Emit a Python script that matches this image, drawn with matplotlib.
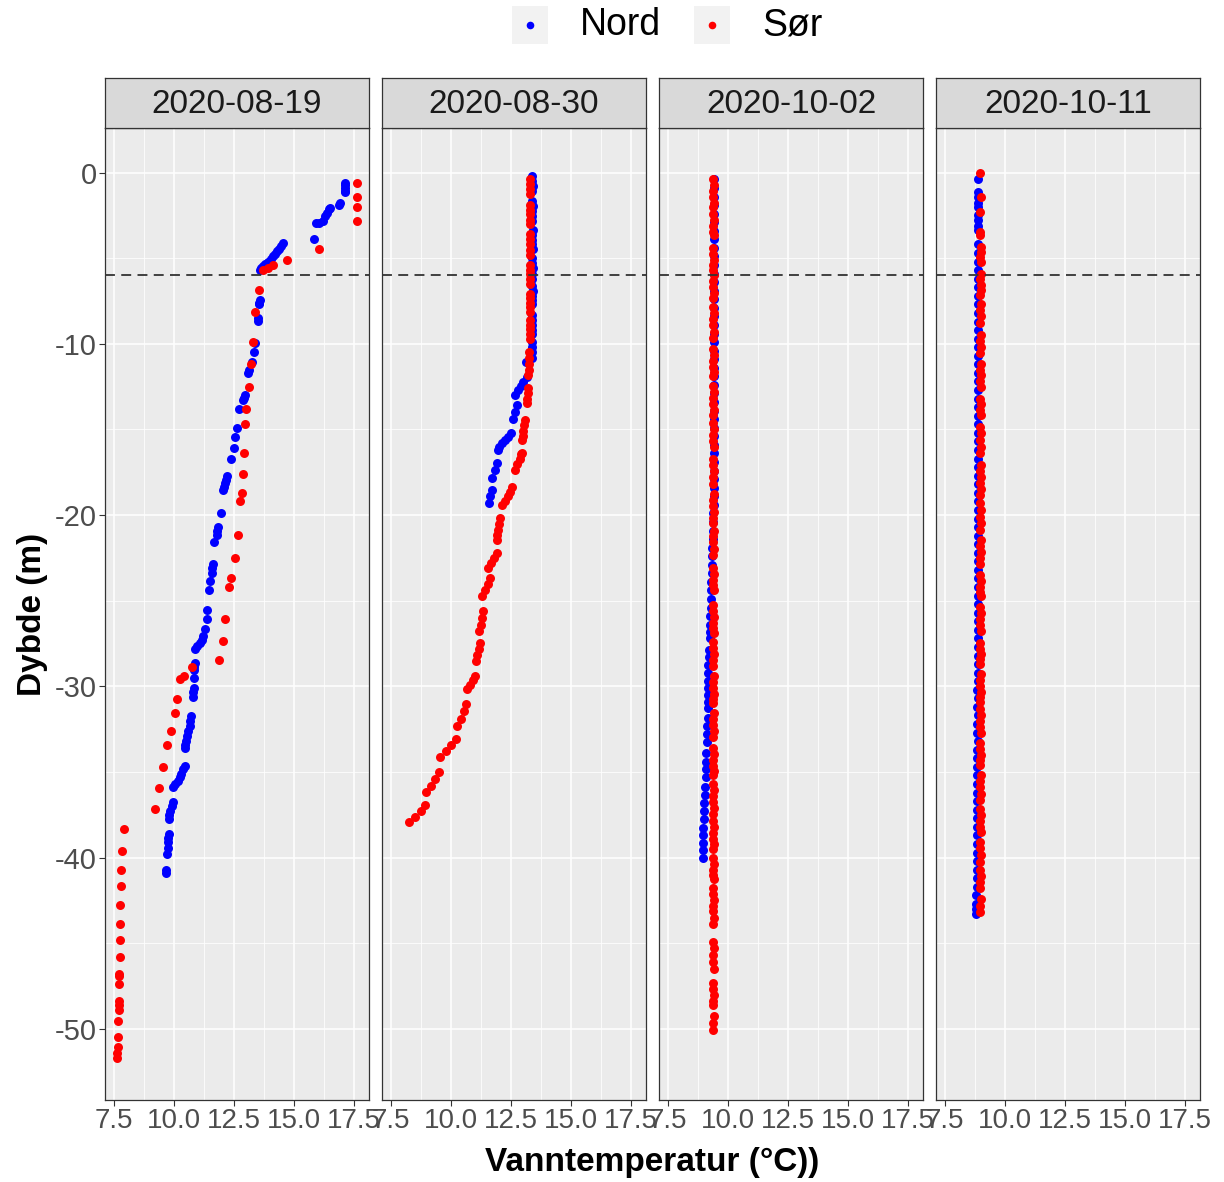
import matplotlib
matplotlib.use("Agg")
import matplotlib.pyplot as plt
from matplotlib.patches import Rectangle
from matplotlib.ticker import FixedLocator, FuncFormatter

plt.rcParams['font.family'] = ['Liberation Sans', 'DejaVu Sans']

dates = ['2020-08-19', '2020-08-30', '2020-10-02', '2020-10-11']
sites = ['Nord', 'Sør']
site_colors = {'Nord': '#0000FF', 'Sør': '#FF0000'}
threshold_depth = -6

x_ticks = [7.5, 10.0, 12.5, 15.0, 17.5]
x_minor = [8.75, 11.25, 13.75, 16.25]
y_ticks = [0, -10, -20, -30, -40, -50]
y_minor = [-5, -15, -25, -35, -45]

# (temperature, depth) pairs
nord_0819 = [
    (17.11, -0.62), (17.11, -0.75), (17.12, -0.9), (17.11, -1.05), (17.10, -1.15),
    (16.90, -1.78), (16.86, -1.9), (16.5, -2.05), (16.45, -2.15), (16.38, -2.35),
    (16.3, -2.55), (16.21, -2.85), (16.05, -2.93), (15.9, -2.93), (15.83, -3.9),
    (14.52, -4.12), (14.45, -4.3), (14.38, -4.45), (14.3, -4.6), (14.22, -4.75),
    (14.12, -4.9), (14.02, -5.05), (13.92, -5.2), (13.8, -5.35), (13.7, -5.45),
    (13.62, -5.55), (13.57, -5.7), (13.57, -7.45), (13.55, -7.6), (13.53, -7.7),
    (13.5, -8.5), (13.48, -8.66), (13.37, -9.94), (13.31, -10.49), (13.24, -11.05),
    (13.12, -11.55), (13.08, -11.7), (12.97, -13.0), (12.9, -13.15), (12.86, -13.3),
    (12.69, -13.8), (12.63, -14.9), (12.55, -15.45), (12.49, -16.1), (12.38, -16.7),
    (12.19, -17.74), (12.15, -17.95), (12.12, -18.13), (12.06, -18.35), (12.02, -18.52),
    (11.94, -19.88), (11.84, -20.69), (11.8, -20.9), (11.77, -21.14), (11.68, -21.57),
    (11.63, -22.85), (11.6, -23.1), (11.56, -23.38), (11.49, -23.86), (11.47, -24.35),
    (11.39, -25.57), (11.36, -26.05), (11.29, -26.64), (11.22, -27.06), (11.15, -27.3),
    (11.08, -27.45), (10.97, -27.65), (10.87, -27.80), (10.86, -28.62), (10.85, -28.85),
    (10.84, -29.04), (10.84, -29.51), (10.84, -30.07), (10.8, -30.35), (10.77, -30.65),
    (10.70, -31.72), (10.68, -32.0), (10.67, -32.3), (10.59, -32.6), (10.55, -32.9),
    (10.5, -33.18), (10.46, -33.4), (10.46, -33.57), (10.44, -34.63), (10.37, -34.85),
    (10.30, -35.12), (10.23, -35.3), (10.16, -35.5), (10.06, -35.7), (9.96, -35.9),
    (9.96, -36.77), (9.9, -37.0), (9.85, -37.25), (9.8, -37.5), (9.78, -37.74),
    (9.78, -38.6), (9.76, -38.85), (9.75, -39.1), (9.73, -39.45), (9.71, -39.78),
    (9.68, -40.75), (9.68, -40.88),
]
sor_0819 = [
    (17.62, -0.62), (17.62, -1.40), (17.62, -2.02), (17.60, -2.83), (16.04, -4.45),
    (14.68, -5.12), (14.1, -5.4), (13.93, -5.6), (13.72, -5.7), (13.52, -6.83),
    (13.37, -8.13), (13.27, -9.87), (13.21, -11.18), (13.13, -12.54), (13.0, -13.82),
    (12.94, -14.7), (12.9, -16.38), (12.88, -17.61), (12.81, -18.72), (12.74, -19.2),
    (12.66, -21.18), (12.53, -22.5), (12.39, -23.70), (12.28, -24.19), (12.14, -26.09),
    (12.03, -27.37), (11.89, -28.48), (10.75, -28.85), (10.4, -29.39), (10.26, -29.55),
    (10.12, -30.71), (10.05, -31.57), (9.87, -32.6), (9.72, -33.45), (9.54, -34.73),
    (9.36, -35.95), (9.19, -37.16), (7.92, -38.32), (7.84, -39.64), (7.8, -40.71),
    (7.78, -41.64), (7.77, -42.79), (7.76, -43.86), (7.75, -44.79), (7.74, -45.8),
    (7.73, -46.77), (7.73, -46.9), (7.72, -47.4), (7.72, -48.38), (7.71, -48.6),
    (7.71, -48.9), (7.69, -49.52), (7.67, -50.5), (7.66, -51.04), (7.64, -51.43),
    (7.63, -51.68),
]
nord_0830 = [
    (13.38, -0.23), (13.38, -0.5), (13.39, -0.8), (13.38, -1.1),
    (13.38, -1.65), (13.39, -1.95), (13.38, -2.25), (13.38, -2.55), (13.38, -2.85),
    (13.39, -3.35), (13.38, -3.65), (13.38, -3.95), (13.38, -4.2), (13.39, -4.45),
    (13.38, -5.0), (13.38, -5.3), (13.39, -5.6), (13.38, -5.9), (13.38, -6.2),
    (13.38, -6.6), (13.39, -6.9), (13.38, -7.2), (13.38, -7.45), (13.38, -7.65),
    (13.38, -8.3), (13.38, -8.6), (13.37, -8.9), (13.37, -9.2), (13.37, -9.4),
    (13.36, -9.9), (13.36, -10.2), (13.35, -10.5), (13.35, -10.8), (13.10, -11.05),
    (13.15, -11.92), (13.01, -12.21), (12.9, -12.45), (12.8, -12.7), (12.66, -13.0),
    (12.76, -13.57), (12.66, -13.96), (12.56, -14.4),
    (12.48, -15.22), (12.35, -15.42), (12.25, -15.61), (12.12, -15.8), (12.01, -16.0),
    (11.97, -16.19), (11.9, -16.97), (11.83, -17.36), (11.69, -17.84),
    (11.69, -18.52), (11.62, -18.91), (11.6, -19.3),
]
sor_0830 = [
    (13.28, -0.37), (13.28, -0.65), (13.29, -0.95), (13.28, -1.24),
    (13.28, -1.92), (13.28, -2.2), (13.29, -2.45), (13.28, -2.75), (13.28, -2.99),
    (13.28, -3.57), (13.29, -3.9), (13.28, -4.2), (13.28, -4.5), (13.28, -4.83),
    (13.28, -5.42), (13.29, -5.7), (13.28, -5.95), (13.28, -6.2), (13.28, -6.48),
    (13.28, -7.07), (13.28, -7.35), (13.29, -7.6), (13.28, -7.85), (13.28, -8.13),
    (13.27, -8.62), (13.28, -8.9), (13.27, -9.15), (13.27, -9.45), (13.27, -9.69),
    (13.25, -10.46), (13.24, -10.8), (13.24, -11.15), (13.23, -11.5), (13.22, -11.82),
    (13.21, -12.6), (13.19, -12.9), (13.17, -13.2), (13.15, -13.47),
    (13.07, -14.44), (13.04, -14.75), (13.01, -15.1), (12.98, -15.41), (12.97, -15.61),
    (12.9, -16.42),
    (12.94, -16.39), (12.86, -16.7), (12.76, -17.0), (12.66, -17.36),
    (12.55, -18.37), (12.45, -18.65), (12.38, -18.91), (12.25, -19.15), (12.11, -19.4),
    (12.04, -20.17), (12.0, -20.5), (11.95, -20.85), (11.92, -21.15), (11.9, -21.43),
    (11.9, -22.21), (11.8, -22.5), (11.68, -22.8), (11.55, -23.08),
    (11.62, -23.66), (11.52, -24.0), (11.4, -24.35), (11.28, -24.73),
    (11.35, -25.6), (11.3, -26.0), (11.23, -26.4), (11.18, -26.77),
    (11.21, -27.45), (11.15, -27.8), (11.08, -28.15), (11.03, -28.52),
    (11.0, -29.39), (10.9, -29.65), (10.8, -29.9), (10.68, -30.17),
    (10.62, -31.05), (10.52, -31.45), (10.4, -31.9), (10.26, -32.3),
    (10.2, -33.08), (10.0, -33.4), (9.78, -33.75), (9.54, -34.15),
    (9.51, -34.98), (9.35, -35.4), (9.15, -35.8), (8.96, -36.19),
    (8.92, -36.92), (8.75, -37.25), (8.5, -37.6), (8.26, -37.93),
]
nord_1002 = [
    (9.43, -0.4), (9.43, -0.9), (9.42, -1.4), (9.43, -1.9), (9.43, -2.4),
    (9.42, -2.9), (9.43, -3.4), (9.42, -3.9), (9.43, -4.4), (9.42, -4.9),
    (9.43, -5.4), (9.42, -5.9), (9.43, -6.4), (9.43, -6.9), (9.42, -7.4),
    (9.43, -7.9), (9.43, -8.4), (9.42, -8.9), (9.43, -9.4), (9.43, -9.9),
    (9.42, -10.4), (9.43, -10.9), (9.42, -11.4), (9.43, -11.9), (9.42, -12.4),
    (9.43, -12.9), (9.42, -13.4), (9.42, -13.9), (9.43, -14.4), (9.42, -14.9),
    (9.42, -15.4), (9.41, -15.9), (9.42, -16.4), (9.41, -16.9), (9.41, -17.4),
    (9.40, -17.9), (9.41, -18.4), (9.40, -18.9), (9.40, -19.4), (9.39, -19.9),
    (9.38, -20.4), (9.38, -20.9), (9.36, -21.4), (9.35, -21.9), (9.34, -22.4),
    (9.33, -22.9), (9.32, -23.4), (9.31, -23.9), (9.30, -24.4), (9.29, -24.9),
    (9.28, -25.4), (9.27, -25.9), (9.26, -26.4), (9.25, -26.8), (9.24, -27.2),
    (9.20, -27.85), (9.19, -28.3), (9.18, -28.75), (9.18, -29.2),
    (9.18, -29.7), (9.17, -30.1), (9.17, -30.5), (9.16, -30.9), (9.16, -31.25),
    (9.15, -31.85), (9.14, -32.3), (9.14, -32.8), (9.13, -33.25),
    (9.10, -33.9), (9.09, -34.4), (9.08, -34.85), (9.07, -35.3),
    (9.04, -35.9), (9.03, -36.35), (9.02, -36.8), (9.01, -37.3), (9.00, -37.75),
    (8.98, -38.25), (8.97, -38.7), (8.97, -39.15), (8.96, -39.55), (8.96, -40.0),
]
sor_1002 = [
    (9.39, -0.4), (9.40, -0.75), (9.39, -1.1), (9.39, -1.45), (9.40, -1.8), (9.39, -2.0),
    (9.39, -2.45), (9.40, -2.8), (9.39, -3.15), (9.39, -3.45), (9.40, -3.65),
    (9.39, -4.4), (9.39, -4.75), (9.40, -5.1), (9.39, -5.4), (9.39, -5.7),
    (9.40, -6.0), (9.39, -6.35), (9.39, -6.7), (9.40, -7.05), (9.39, -7.35),
    (9.39, -7.85), (9.40, -8.2), (9.39, -8.55), (9.39, -8.9), (9.40, -9.3), (9.39, -9.65),
    (9.39, -10.3), (9.40, -10.65), (9.39, -11.0), (9.39, -11.35), (9.40, -11.65), (9.39, -11.9),
    (9.39, -12.45), (9.40, -12.8), (9.39, -13.15), (9.39, -13.5), (9.40, -13.85), (9.39, -14.15),
    (9.39, -14.65), (9.40, -15.0), (9.39, -15.35), (9.39, -15.7), (9.40, -16.05),
    (9.39, -16.7), (9.39, -17.05), (9.40, -17.4), (9.39, -17.8), (9.39, -18.2),
    (9.40, -18.75), (9.39, -19.1), (9.39, -19.45), (9.40, -19.8), (9.39, -20.15), (9.39, -20.45),
    (9.40, -20.9), (9.39, -21.25), (9.39, -21.6), (9.40, -22.0), (9.39, -22.35),
    (9.39, -23.1), (9.40, -23.45), (9.39, -23.8), (9.39, -24.1), (9.40, -24.4),
    (9.39, -25.25), (9.39, -25.6), (9.40, -25.95), (9.39, -26.3), (9.39, -26.6), (9.40, -26.9),
    (9.39, -27.4), (9.39, -27.75), (9.40, -28.1), (9.39, -28.45), (9.39, -28.8),
    (9.40, -29.4), (9.39, -29.75), (9.39, -30.1), (9.40, -30.45), (9.39, -30.75), (9.39, -31.0),
    (9.40, -31.55), (9.39, -31.9), (9.39, -32.25), (9.40, -32.6), (9.39, -32.95),
    (9.39, -33.6), (9.40, -33.95), (9.39, -34.3), (9.39, -34.65), (9.40, -34.95), (9.39, -35.2),
    (9.39, -35.7), (9.40, -36.05), (9.39, -36.4), (9.39, -36.75), (9.40, -37.1), (9.39, -37.45),
    (9.39, -37.85), (9.40, -38.2), (9.39, -38.55), (9.39, -38.9), (9.40, -39.2), (9.39, -39.5),
    (9.39, -40.0), (9.40, -40.35), (9.39, -40.7), (9.39, -41.0), (9.40, -41.25),
    (9.39, -41.75), (9.39, -42.1), (9.40, -42.45), (9.39, -42.8),
    (9.39, -43.1), (9.40, -43.5), (9.39, -43.9),
    (9.39, -44.9), (9.40, -45.3), (9.39, -45.7), (9.39, -46.1), (9.40, -46.5),
    (9.39, -47.3), (9.39, -47.65), (9.40, -48.0), (9.39, -48.35), (9.39, -48.6),
    (9.40, -49.25), (9.39, -49.65), (9.39, -50.05),
]
nord_1011 = [
    (8.87, -0.4), (8.88, -1.15), (8.87, -1.45), (8.88, -1.75), (8.88, -2.0),
    (8.87, -2.5), (8.88, -2.8), (8.87, -3.1), (8.88, -3.35),
    (8.88, -4.2), (8.87, -4.7), (8.88, -5.2), (8.89, -5.7), (8.88, -6.2),
    (8.87, -6.7), (8.88, -7.2), (8.87, -7.7), (8.88, -8.2), (8.88, -8.7),
    (8.87, -9.2), (8.88, -9.7), (8.87, -10.2), (8.88, -10.7), (8.88, -11.2),
    (8.87, -11.7), (8.88, -12.2), (8.87, -12.7), (8.87, -13.2), (8.88, -13.7),
    (8.87, -14.2), (8.88, -14.7), (8.87, -15.2), (8.88, -15.7), (8.87, -16.2),
    (8.87, -16.7), (8.88, -17.2), (8.87, -17.7), (8.87, -18.2), (8.88, -18.7),
    (8.87, -19.2), (8.87, -19.7), (8.88, -20.2), (8.87, -20.7), (8.86, -21.2),
    (8.87, -21.7), (8.87, -22.2), (8.86, -22.7), (8.87, -23.2), (8.86, -23.7),
    (8.87, -24.2), (8.86, -24.7), (8.87, -25.2), (8.86, -25.7), (8.86, -26.2),
    (8.87, -26.7), (8.86, -27.2), (8.86, -27.7), (8.87, -28.2), (8.86, -28.7),
    (8.86, -29.2), (8.86, -29.7), (8.85, -30.2), (8.86, -30.7), (8.85, -31.2),
    (8.86, -31.7), (8.85, -32.2), (8.85, -32.7), (8.86, -33.2), (8.85, -33.7),
    (8.85, -34.2), (8.85, -34.7), (8.84, -35.2), (8.85, -35.7), (8.84, -36.2),
    (8.84, -36.7), (8.85, -37.2), (8.84, -37.7), (8.84, -38.2), (8.83, -38.7),
    (8.84, -39.2), (8.83, -39.7), (8.83, -40.2), (8.82, -40.7), (8.83, -41.2),
    (8.82, -41.7), (8.81, -42.2), (8.81, -42.7), (8.80, -43.0), (8.79, -43.3),
]
sor_1011 = [
    (8.98, 0.0), (8.99, -1.43), (8.98, -2.31), (8.98, -3.47), (8.98, -3.67),
    (8.99, -4.35), (8.99, -4.65), (8.98, -4.95), (8.99, -5.2),
    (8.99, -5.9), (8.98, -6.2), (8.99, -6.55), (8.99, -6.85), (8.98, -7.15),
    (8.99, -7.65), (8.98, -8.0), (8.99, -8.4), (8.98, -8.8),
    (8.99, -9.5), (8.98, -9.85), (8.99, -10.2), (8.98, -10.55),
    (8.99, -11.15), (8.98, -11.5), (8.99, -11.85), (8.98, -12.2), (8.99, -12.5),
    (8.98, -13.2), (8.99, -13.5), (8.98, -13.85), (8.99, -14.15),
    (8.98, -14.85), (8.99, -15.2), (8.98, -15.6), (8.99, -16.0), (8.98, -16.35),
    (8.99, -17.1), (8.98, -17.45), (8.99, -17.8), (8.98, -18.15), (8.99, -18.5), (8.98, -18.8),
    (8.98, -19.3), (8.99, -19.7), (8.98, -20.1), (8.99, -20.45), (8.98, -20.85),
    (8.99, -21.45), (8.98, -21.8), (8.99, -22.15), (8.98, -22.5), (8.98, -22.85),
    (8.98, -23.5), (8.99, -23.85), (8.98, -24.2), (8.98, -24.5), (8.99, -24.75),
    (8.98, -25.35), (8.99, -25.7), (8.98, -26.05), (8.98, -26.4), (8.99, -26.75),
    (8.98, -27.45), (8.98, -27.8), (8.99, -28.1), (8.98, -28.4), (8.98, -28.7),
    (8.99, -29.3), (8.98, -29.65), (8.98, -30.0), (8.99, -30.3), (8.98, -30.6), (8.98, -30.9),
    (8.98, -31.35), (8.99, -31.7), (8.98, -32.0), (8.98, -32.35), (8.99, -32.7),
    (8.98, -33.3), (8.98, -33.65), (8.99, -34.0), (8.98, -34.3), (8.98, -34.6),
    (8.99, -35.2), (8.98, -35.55), (8.98, -35.9), (8.99, -36.3), (8.98, -36.65),
    (8.98, -37.15), (8.99, -37.5), (8.98, -37.85), (8.98, -38.2), (8.99, -38.5),
    (8.98, -39.1), (8.98, -39.45), (8.99, -39.85), (8.98, -40.25),
    (8.98, -40.75), (8.99, -41.1), (8.98, -41.45), (8.98, -41.8),
    (8.99, -42.4), (8.98, -42.8), (8.98, -43.15),
]

profiles = {
    '2020-08-19': {'Nord': nord_0819, 'Sør': sor_0819},
    '2020-08-30': {'Nord': nord_0830, 'Sør': sor_0830},
    '2020-10-02': {'Nord': nord_1002, 'Sør': sor_1002},
    '2020-10-11': {'Nord': nord_1011, 'Sør': sor_1011},
}

### LAYOUT (pixels of a 1224 x 1182 canvas)
W, H = 1224, 1182
panel_x = [105, 382, 659, 936]
panel_w = 264
panel_top, panel_bottom = 128, 1100
strip_h = 50
edge = '#333333'

fig = plt.figure(figsize=(W / 100, H / 100), dpi=100)
fig.patch.set_facecolor('white')

for i, date in enumerate(dates):
    x0 = panel_x[i]
    ax = fig.add_axes([x0 / W, (H - panel_bottom) / H, panel_w / W,
                       (panel_bottom - panel_top) / H])
    ax.set_facecolor('#EBEBEB')
    ax.set_xlim(7.13, 18.11)
    ax.set_ylim(-54.15, 2.6)

    ax.xaxis.set_major_locator(FixedLocator(x_ticks))
    ax.xaxis.set_minor_locator(FixedLocator(x_minor))
    ax.yaxis.set_major_locator(FixedLocator(y_ticks))
    ax.yaxis.set_minor_locator(FixedLocator(y_minor))
    ax.xaxis.set_major_formatter(FuncFormatter(lambda v, p: f'{v:.1f}'))
    ax.yaxis.set_major_formatter(FuncFormatter(lambda v, p: f'{v:g}'))
    ax.grid(which='major', color='white', linewidth=1.1)
    ax.grid(which='minor', color='white', linewidth=0.55)
    ax.set_axisbelow(True)

    ax.tick_params(which='major', direction='out', length=4, width=0.8,
                   color=edge, labelsize=20, labelcolor='#4D4D4D', pad=2)
    ax.tick_params(axis='y', which='major', labelsize=21)
    ax.tick_params(which='minor', length=0)
    if i > 0:
        ax.tick_params(axis='y', which='both', left=False, labelleft=False)
    for sp in ax.spines.values():
        sp.set_color(edge)
        sp.set_linewidth(0.9)

    for site in sites:
        temps = [t for t, d in profiles[date][site]]
        depths = [d for t, d in profiles[date][site]]
        ax.scatter(temps, depths, s=42, color=site_colors[site],
                   linewidths=0, zorder=3)

    ax.axhline(threshold_depth, color=edge, linewidth=1.3,
               linestyle=(0, (5.5, 3.5)), zorder=4)

    # facet strip
    sax = fig.add_axes([x0 / W, (H - panel_top) / H, panel_w / W, strip_h / H])
    sax.set_facecolor('#D9D9D9')
    sax.set_xticks([])
    sax.set_yticks([])
    for sp in sax.spines.values():
        sp.set_color(edge)
        sp.set_linewidth(0.9)
    sax.text(0.5, 0.47, date, fontsize=24, color='#1A1A1A',
             ha='center', va='center', transform=sax.transAxes)

fig.text(33 / W, 1 - 614 / H, 'Dybde (m)', rotation=90, fontsize=24,
         fontweight='bold', ha='center', va='center')
fig.text(652 / W, 1 - 1162 / H, 'Vanntemperatur (°C))', fontsize=24,
         fontweight='bold', ha='center', va='center')

### LEGEND on top
lax = fig.add_axes([0, 0, 1, 1], facecolor='none')
lax.set_xlim(0, W)
lax.set_ylim(H, 0)
lax.set_axis_off()
legend_keys = [(530, 'Nord'), (712, 'Sør')]
for kx, site in legend_keys:
    lax.add_patch(Rectangle((kx - 18, 6), 36, 38, facecolor='#F2F2F2',
                            edgecolor='none'))
    lax.scatter([kx], [25], s=30, color=site_colors[site], linewidths=0)
    lax.text(kx + 50, 25, site, fontsize=27, ha='left', va='center')

fig.savefig('out.png', dpi=100)
